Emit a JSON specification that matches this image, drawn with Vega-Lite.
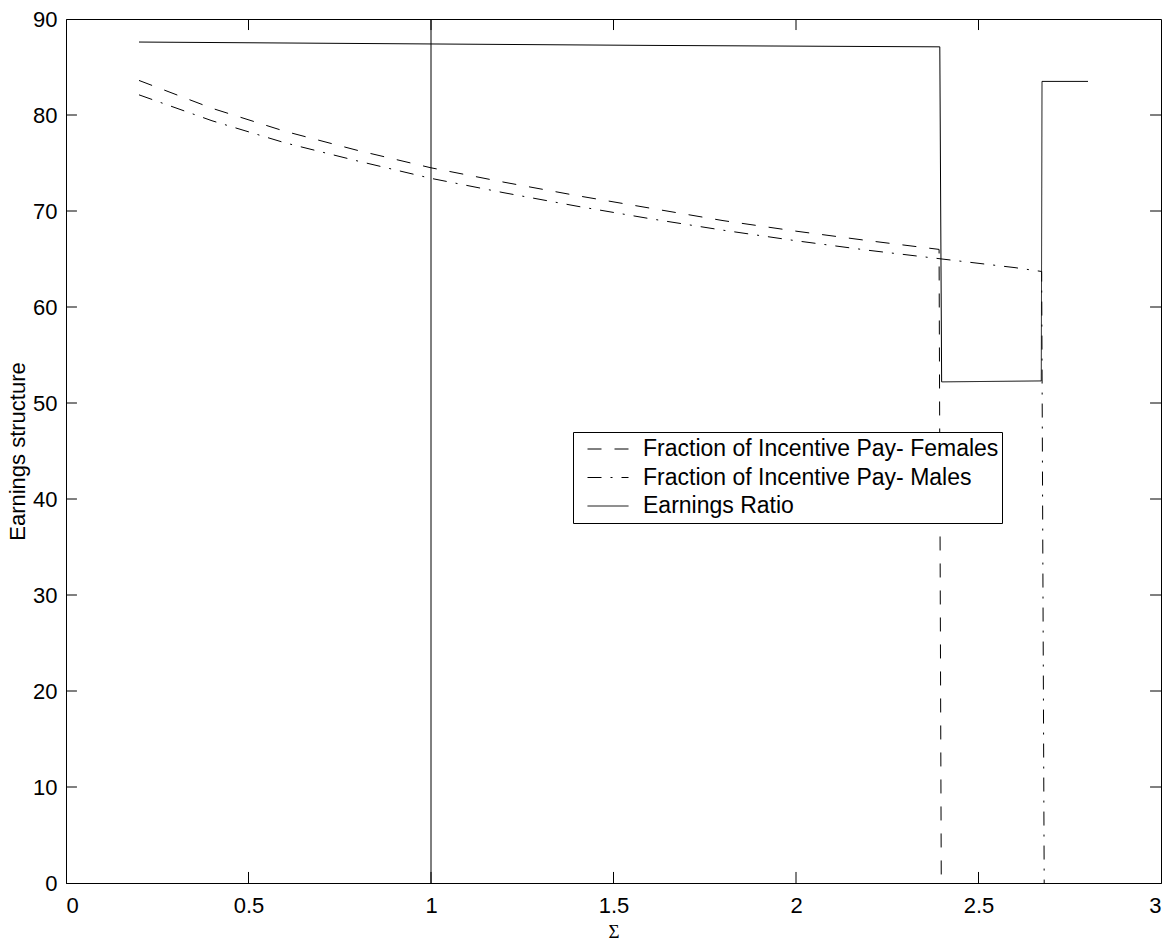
{
  "$schema": "https://vega.github.io/schema/vega-lite/v6.json",
  "width": 1095,
  "height": 864,
  "autosize": {"type": "none"},
  "padding": {"left": 66, "top": 19, "right": 11, "bottom": 61},
  "background": "white",
  "config": {
    "font": "Liberation Sans",
    "view": {"stroke": "black", "strokeWidth": 1},
    "axis": {
      "domainColor": "black",
      "domainWidth": 1,
      "labelColor": "black",
      "titleColor": "black",
      "labelFont": "Liberation Sans",
      "labelFontSize": 22,
      "titleFontSize": 22,
      "titleFontWeight": "normal",
      "grid": false
    }
  },
  "datasets": {
    "curves": [
      {"i": 1, "series": "Fraction of Incentive Pay- Females", "sigma": 0.2, "value": 83.6},
      {"i": 2, "series": "Fraction of Incentive Pay- Females", "sigma": 0.4, "value": 80.7},
      {"i": 3, "series": "Fraction of Incentive Pay- Females", "sigma": 0.6, "value": 78.3},
      {"i": 4, "series": "Fraction of Incentive Pay- Females", "sigma": 0.8, "value": 76.3},
      {"i": 5, "series": "Fraction of Incentive Pay- Females", "sigma": 1.0, "value": 74.5},
      {"i": 6, "series": "Fraction of Incentive Pay- Females", "sigma": 1.2, "value": 73.0},
      {"i": 7, "series": "Fraction of Incentive Pay- Females", "sigma": 1.4, "value": 71.6},
      {"i": 8, "series": "Fraction of Incentive Pay- Females", "sigma": 1.6, "value": 70.3},
      {"i": 9, "series": "Fraction of Incentive Pay- Females", "sigma": 1.8, "value": 69.0},
      {"i": 10, "series": "Fraction of Incentive Pay- Females", "sigma": 2.0, "value": 67.9},
      {"i": 11, "series": "Fraction of Incentive Pay- Females", "sigma": 2.2, "value": 66.9},
      {"i": 12, "series": "Fraction of Incentive Pay- Females", "sigma": 2.392, "value": 66.0},
      {"i": 13, "series": "Fraction of Incentive Pay- Females", "sigma": 2.398, "value": 0},
      {"i": 1, "series": "Fraction of Incentive Pay- Males", "sigma": 0.2, "value": 82.1},
      {"i": 2, "series": "Fraction of Incentive Pay- Males", "sigma": 0.4, "value": 79.4},
      {"i": 3, "series": "Fraction of Incentive Pay- Males", "sigma": 0.6, "value": 77.1},
      {"i": 4, "series": "Fraction of Incentive Pay- Males", "sigma": 0.8, "value": 75.2},
      {"i": 5, "series": "Fraction of Incentive Pay- Males", "sigma": 1.0, "value": 73.4},
      {"i": 6, "series": "Fraction of Incentive Pay- Males", "sigma": 1.2, "value": 71.9},
      {"i": 7, "series": "Fraction of Incentive Pay- Males", "sigma": 1.4, "value": 70.5},
      {"i": 8, "series": "Fraction of Incentive Pay- Males", "sigma": 1.6, "value": 69.2},
      {"i": 9, "series": "Fraction of Incentive Pay- Males", "sigma": 1.8, "value": 68.0},
      {"i": 10, "series": "Fraction of Incentive Pay- Males", "sigma": 2.0, "value": 66.9},
      {"i": 11, "series": "Fraction of Incentive Pay- Males", "sigma": 2.2, "value": 65.9},
      {"i": 12, "series": "Fraction of Incentive Pay- Males", "sigma": 2.4, "value": 65.0},
      {"i": 13, "series": "Fraction of Incentive Pay- Males", "sigma": 2.6, "value": 64.1},
      {"i": 14, "series": "Fraction of Incentive Pay- Males", "sigma": 2.673, "value": 63.7},
      {"i": 15, "series": "Fraction of Incentive Pay- Males", "sigma": 2.68, "value": 0},
      {"i": 1, "series": "Earnings Ratio", "sigma": 0.2, "value": 87.6},
      {"i": 2, "series": "Earnings Ratio", "sigma": 1.0, "value": 87.4},
      {"i": 3, "series": "Earnings Ratio", "sigma": 1.6, "value": 87.25},
      {"i": 4, "series": "Earnings Ratio", "sigma": 2.394, "value": 87.1},
      {"i": 5, "series": "Earnings Ratio", "sigma": 2.399, "value": 52.2},
      {"i": 6, "series": "Earnings Ratio", "sigma": 2.672, "value": 52.3},
      {"i": 7, "series": "Earnings Ratio", "sigma": 2.674, "value": 83.5},
      {"i": 8, "series": "Earnings Ratio", "sigma": 2.8, "value": 83.5}
    ],
    "marker": [
      {"sigma": 1, "y0": 0, "y1": 90}
    ],
    "xt": [{"v": 0.5}, {"v": 1}, {"v": 1.5}, {"v": 2}, {"v": 2.5}],
    "yt": [{"v": 10}, {"v": 20}, {"v": 30}, {"v": 40}, {"v": 50}, {"v": 60}, {"v": 70}, {"v": 80}]
  },
  "layer": [
    {
      "data": {"name": "curves"},
      "mark": {"type": "line", "color": "black", "strokeWidth": 1},
      "encoding": {
        "x": {
          "field": "sigma", "type": "quantitative",
          "scale": {"domain": [0, 3], "nice": false},
          "axis": {"orient": "bottom", "values": [0, 0.5, 1, 1.5, 2, 2.5, 3], "format": "~g", "ticks": false, "title": "Σ", "titleFont": "Liberation Serif", "titleFontSize": 19, "labelPadding": 12, "titlePadding": 6}
        },
        "y": {
          "field": "value", "type": "quantitative",
          "scale": {"domain": [0, 90], "nice": false},
          "axis": {"orient": "left", "values": [0, 10, 20, 30, 40, 50, 60, 70, 80, 90], "ticks": false, "title": "Earnings structure", "labelPadding": 9, "titlePadding": 3}
        },
        "strokeDash": {
          "field": "series", "type": "nominal",
          "scale": {
            "domain": ["Fraction of Incentive Pay- Females", "Fraction of Incentive Pay- Males", "Earnings Ratio"],
            "range": [[14, 13], [14, 9, 2, 9], [1, 0]]
          },
          "legend": {
            "orient": "none", "legendX": 507, "legendY": 413, "title": null,
            "symbolType": "stroke", "symbolSize": 1681, "symbolStrokeWidth": 1, "symbolStrokeColor": "black",
            "labelFont": "Liberation Sans", "labelFontSize": 23, "labelColor": "black", "labelLimit": 700,
            "strokeColor": "black", "fillColor": "white", "padding": 3,
            "clipHeight": 28, "rowPadding": 0.5, "symbolOffset": 11, "labelOffset": 14
          }
        },
        "order": {"field": "i", "type": "quantitative"}
      }
    },
    {
      "data": {"name": "marker"},
      "mark": {"type": "rule", "color": "black", "strokeWidth": 1},
      "encoding": {
        "x": {"field": "sigma", "type": "quantitative"},
        "y": {"field": "y0", "type": "quantitative"},
        "y2": {"field": "y1"}
      }
    },
    {
      "data": {"name": "xt"},
      "mark": {"type": "rule", "color": "black", "strokeWidth": 1},
      "encoding": {
        "x": {"field": "v", "type": "quantitative"},
        "y": {"datum": 0, "type": "quantitative"},
        "y2": {"datum": 1.15}
      }
    },
    {
      "data": {"name": "xt"},
      "mark": {"type": "rule", "color": "black", "strokeWidth": 1},
      "encoding": {
        "x": {"field": "v", "type": "quantitative"},
        "y": {"datum": 90, "type": "quantitative"},
        "y2": {"datum": 88.85}
      }
    },
    {
      "data": {"name": "yt"},
      "mark": {"type": "rule", "color": "black", "strokeWidth": 1},
      "encoding": {
        "y": {"field": "v", "type": "quantitative"},
        "x": {"datum": 0, "type": "quantitative"},
        "x2": {"datum": 0.03}
      }
    },
    {
      "data": {"name": "yt"},
      "mark": {"type": "rule", "color": "black", "strokeWidth": 1},
      "encoding": {
        "y": {"field": "v", "type": "quantitative"},
        "x": {"datum": 3, "type": "quantitative"},
        "x2": {"datum": 2.97}
      }
    }
  ]
}
